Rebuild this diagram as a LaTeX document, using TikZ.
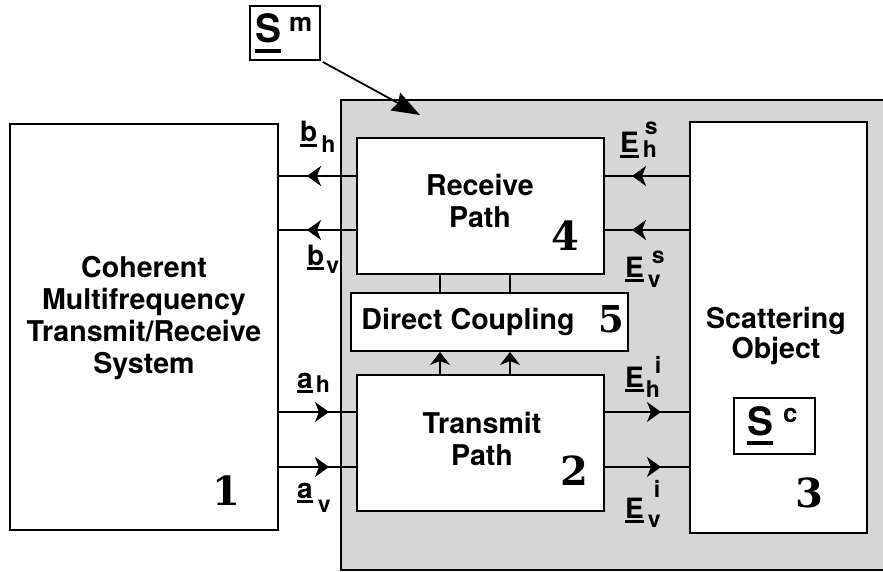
\documentclass[tikz,border=0pt]{standalone}
\usepackage{fontspec}
\setmainfont{TeX Gyre Heros}
\newfontfamily\numfont{DejaVu Serif}
\usetikzlibrary{arrows.meta,decorations.markings}
\newcommand\txtf{\fontsize{28.6}{32}\selectfont\bfseries}
\newcommand\mainf{\fontsize{28}{28}\selectfont\bfseries}
\newcommand\scrf{\fontsize{23}{23}\selectfont\bfseries}
\newcommand\supS{\fontsize{26}{26}\selectfont\bfseries}
\newcommand\bigS{\fontsize{39}{39}\selectfont\bfseries}
\newcommand\numf{\numfont\fontsize{40}{40}\selectfont\bfseries}
\newcommand\myul[3]{\setbox0\hbox{#1}\rlap{\rule[-#2]{\wd0}{#3}}\box0}
% #1 main, #2 sub, #3 sup, #4 gap, #5 drop, #6 rise, #7 sup shift
\newcommand\lbl[7]{{\mainf\myul{#1}{5pt}{3pt}}\hspace{#4}\rlap{\hspace{#7}\raisebox{#6}{\scrf #3}}\raisebox{-#5}{\scrf #2}}
\begin{document}
\begin{tikzpicture}[x=1pt,y=-1pt,
 box/.style={draw, line width=2pt, fill=white, inner sep=0pt},
 txt/.style={font=\txtf, align=center, inner sep=0pt},
 num/.style={font=\numf, inner sep=0pt, anchor=base},
 lab/.style={inner sep=0pt, anchor=base west},
 conn/.style={line width=1.8pt},
 thinlink/.style={line width=1.3pt},
 midarr/.style={decoration={markings, mark=at position #1 with {\arrow{Stealth[length=14pt,width=20pt,inset=4pt]}}}, postaction={decorate}},
 uparr/.style={line width=1.5pt, -{Stealth[length=13pt,width=20pt,inset=4pt]}},
 bigarr/.style={line width=1.8pt, -{Stealth[length=28pt,width=20pt,inset=3pt]}}
]
\useasboundingbox (0,0) rectangle (883,572);
\fill[white] (0,0) rectangle (883,572);
\draw[line width=2pt, fill=black!16] (341,100) rectangle (900,570);

% boxes
\node[box, minimum width=268pt, minimum height=406pt] (sys) at (144,327) {};
\node[box, minimum width=247pt, minimum height=136pt] (recv) at (480.5,206) {};
\node[box, minimum width=277pt, minimum height=58pt] (dc) at (489.5,322) {};
\node[box, minimum width=247pt, minimum height=136pt] (trans) at (480.5,443) {};
\node[box, minimum width=177pt, minimum height=411pt] (scat) at (778.5,327.5) {};
\node[box, minimum width=81pt, minimum height=56pt] (sc) at (774.5,426) {};
\node[box, minimum width=70pt, minimum height=54pt] (sm) at (285,33) {};

% texts
\node[txt] (systxt) at (144,318) {Coherent\\Multifrequency\\Transmit/Receive\\System};
\node[txt] (recvtxt) at (480,201) {Receive\\Path};
\node[txt] (transtxt) at (482,439) {Transmit\\Path};
\node[txt, font=\fontsize{28.6}{30}\selectfont\bfseries] (scattxt) at (776,336) {Scattering\\Object};
\node[txt] (dctxt) at (468,322) {Direct Coupling};

% numbers
\node[num] (n1) at (226,505) {1};
\node[num] (n2) at (574,485) {2};
\node[num] (n3) at (809,507) {3};
\node[num] (n4) at (565,250) {4};
\node[num, font=\numfont\fontsize{37}{37}\selectfont\bfseries] (n5) at (611,332) {5};

% S labels
\node[lab] (smlab) at (255,43) {{\bigS\myul{S}{10pt}{4pt}}\hspace{8pt}\raisebox{11pt}{\supS m}};
\node[lab] (sclab) at (747,435) {{\bigS\myul{S}{10pt}{4pt}}\hspace{10pt}\raisebox{13pt}{\supS c}};

% helper coordinates
\coordinate (yb1) at (0,176);
\coordinate (yb2) at (0,230);
\coordinate (ya1) at (0,412);
\coordinate (ya2) at (0,467);
\coordinate (x1) at (440,0);
\coordinate (x2) at (510,0);
\coordinate (smtip) at (420,115);

% connectors
\draw[conn, midarr=49pt] (recv.west |- yb1) -- (sys.east |- yb1);
\draw[conn, midarr=49pt] (recv.west |- yb2) -- (sys.east |- yb2);
\draw[conn, midarr=50pt] (sys.east |- ya1) -- (trans.west |- ya1);
\draw[conn, midarr=50pt] (sys.east |- ya2) -- (trans.west |- ya2);
\draw[conn, midarr=57pt] (scat.west |- yb1) -- (recv.east |- yb1);
\draw[conn, midarr=57pt] (scat.west |- yb2) -- (recv.east |- yb2);
\draw[conn, midarr=56pt] (trans.east |- ya1) -- (scat.west |- ya1);
\draw[conn, midarr=56pt] (trans.east |- ya2) -- (scat.west |- ya2);
\draw[thinlink] (recv.south -| x1) -- (dc.north -| x1);
\draw[thinlink] (recv.south -| x2) -- (dc.north -| x2);
\draw[uparr] (trans.north -| x1) -- (dc.south -| x1);
\draw[uparr] (trans.north -| x2) -- (dc.south -| x2);
\draw[bigarr, shorten <=2pt] (sm.south east) -- (smtip);

% signal labels
\node[lab] (bh) at (300,142) {\lbl{b}{h}{}{4pt}{11pt}{0pt}{0pt}};
\node[lab] (bv) at (307,265) {\lbl{b}{v}{}{2pt}{8pt}{0pt}{0pt}};
\node[lab] (ah) at (297,388) {\lbl{a}{h}{}{3pt}{4pt}{0pt}{0pt}};
\node[lab] (av) at (297,498) {\lbl{a}{v}{}{5pt}{14pt}{0pt}{0pt}};
\node[lab] (ehs) at (620,153) {\lbl{E}{h}{s}{4pt}{5pt}{18pt}{2pt}};
\node[lab] (evs) at (625,277) {\lbl{E}{v}{s}{4pt}{10pt}{14pt}{4pt}};
\node[lab] (ehi) at (625,387) {\lbl{E}{h}{i}{2pt}{10pt}{14pt}{9pt}};
\node[lab] (evi) at (625,518) {\lbl{E}{v}{i}{4pt}{9pt}{21pt}{6pt}};
\end{tikzpicture}
\end{document}
